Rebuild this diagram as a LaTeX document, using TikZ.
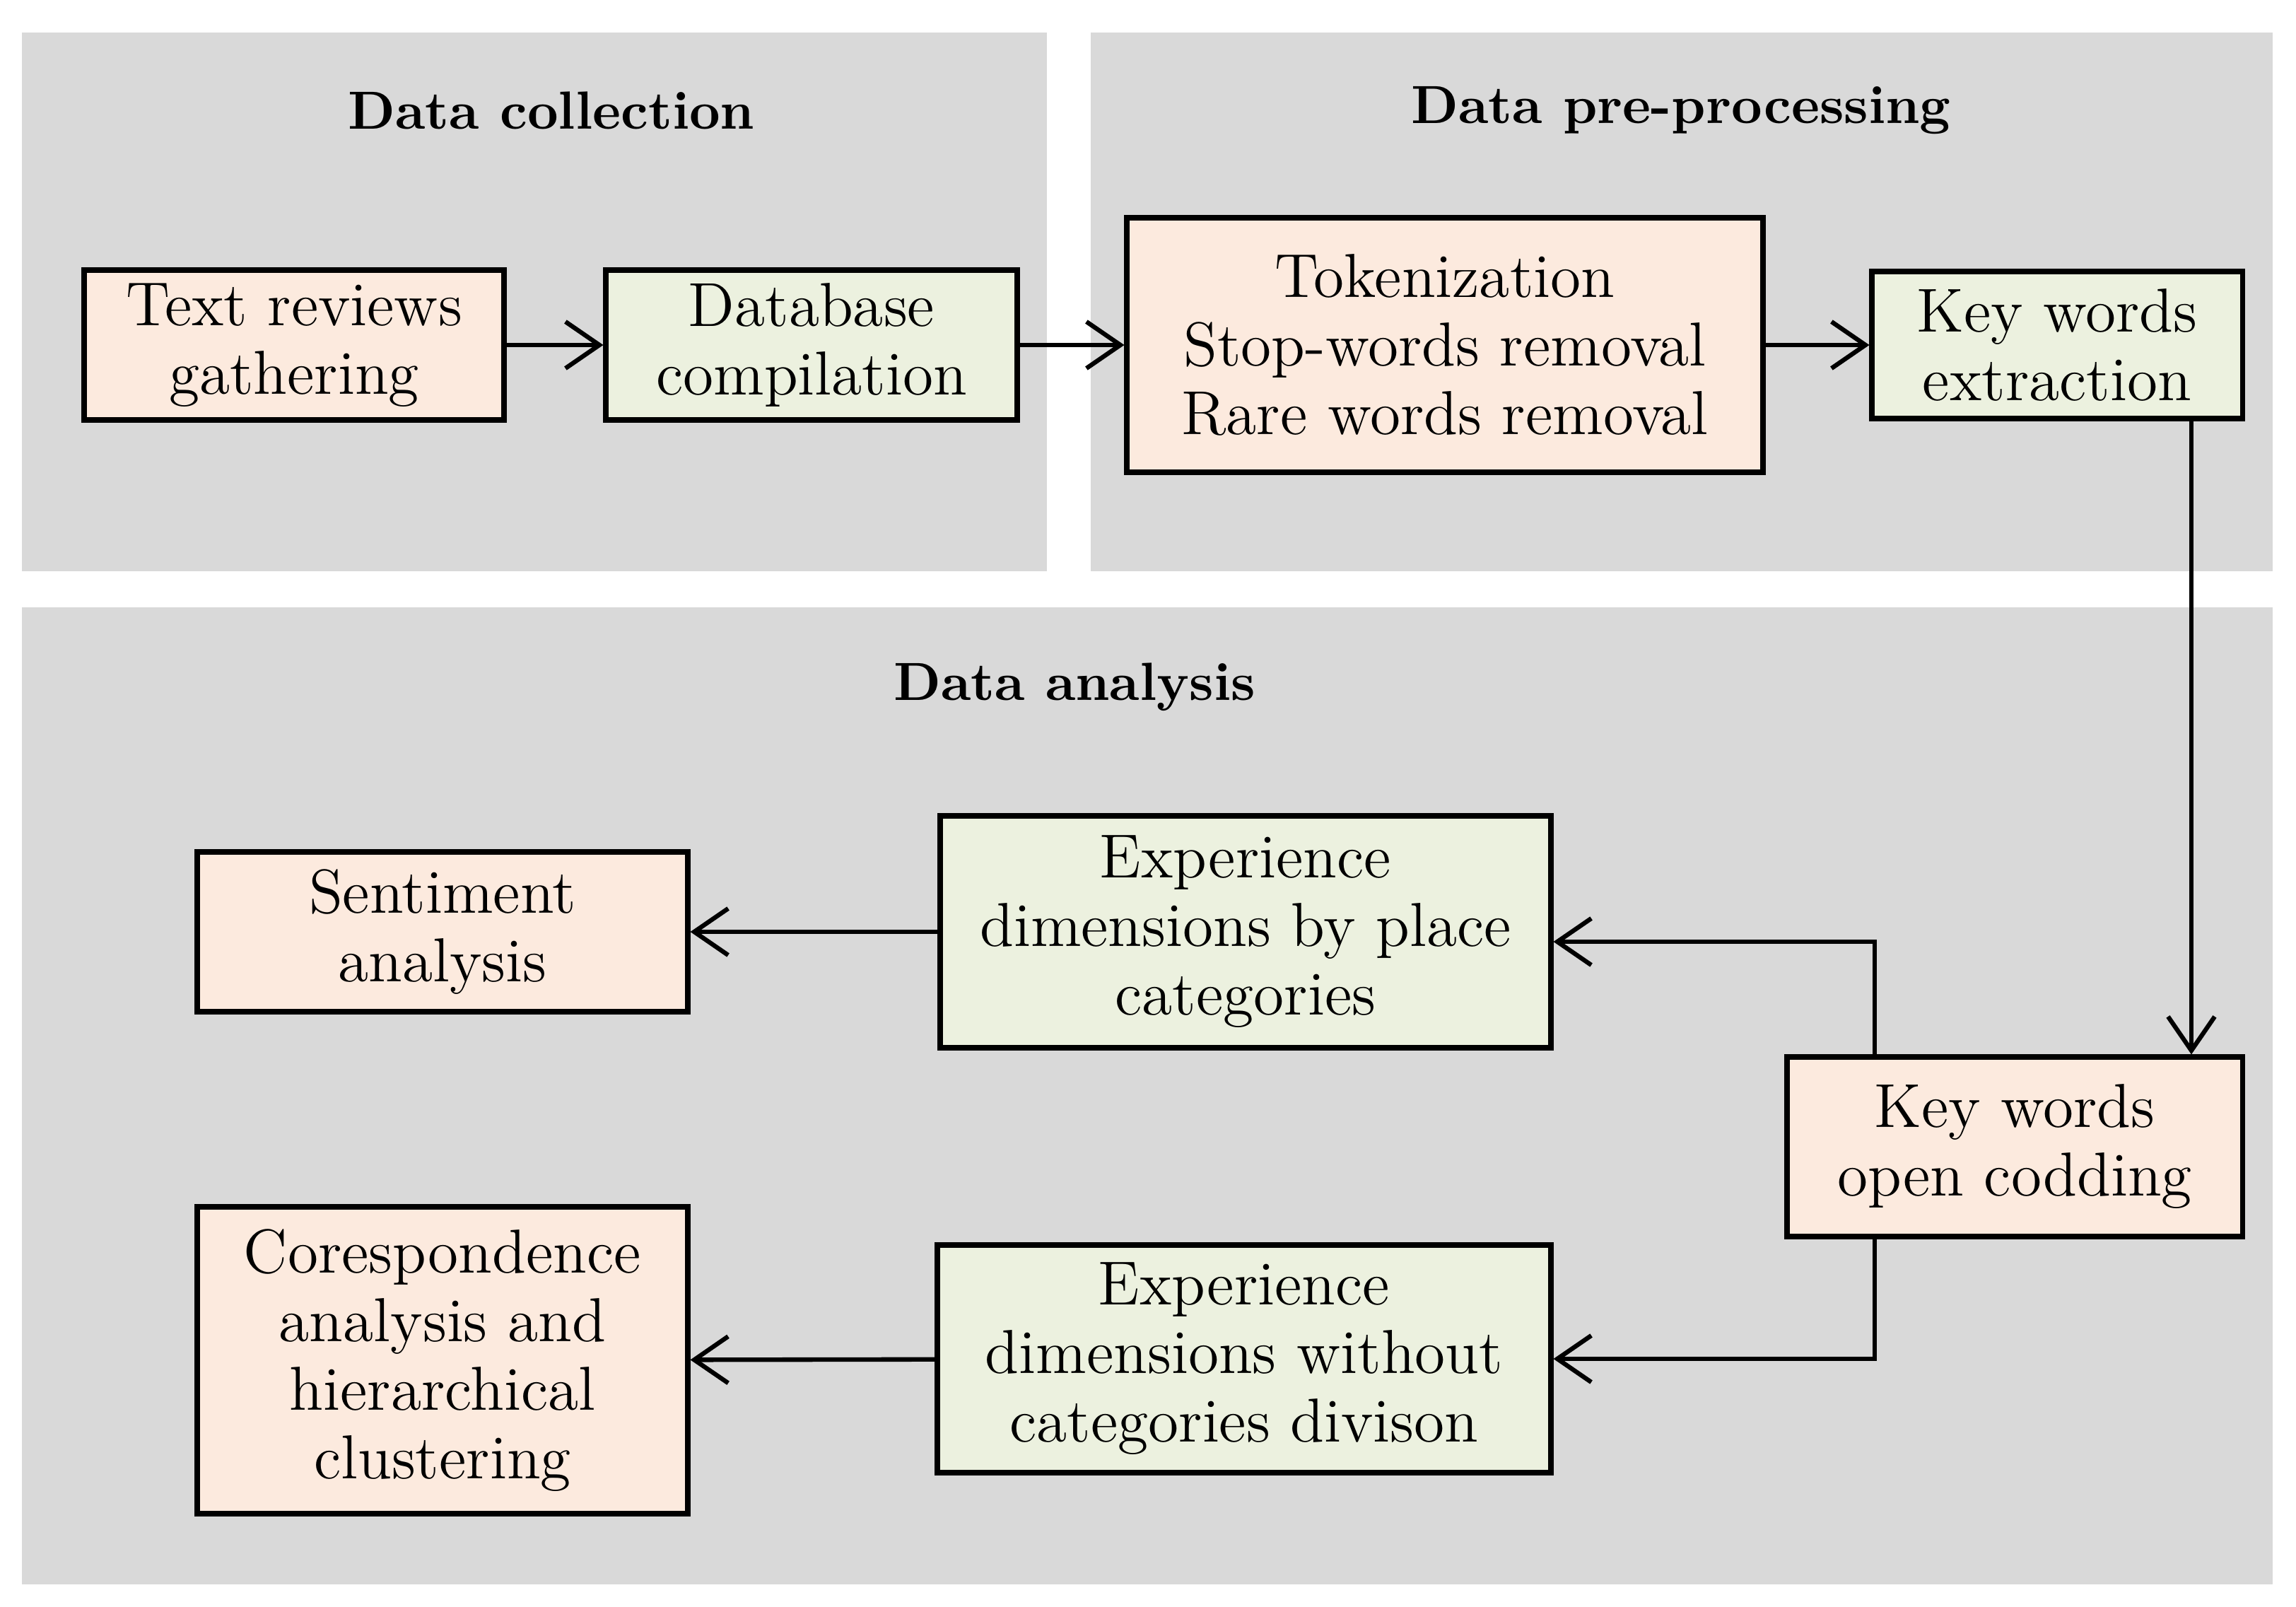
\documentclass[tikz,border=0pt]{standalone}
\usepackage{tikz}
\usetikzlibrary{arrows.meta}
\definecolor{mgray}{RGB}{217, 217, 217}
\definecolor{mpeach}{RGB}{252, 234, 222}
\definecolor{mgreen}{RGB}{236, 241, 223}
\tikzset{box/.style = {draw, line width=1pt, align=center, inner sep=0pt,
                       font=\fontsize{12.5}{13.8}\selectfont},
         peachbox/.style = {box, fill=mpeach},
         greenbox/.style = {box, fill=mgreen},
         title/.style = {font=\fontsize{10.8}{13}\selectfont\bfseries},
         flow/.style = {-{Straight Barb[length=2.4mm, width=3.3mm]}, line width=0.9pt}}

\begin{document}
\begin{tikzpicture}
    \useasboundingbox (0, 0) rectangle (16.24, 11.36);

    % panels
    \fill [mgray] (0.155, 7.32) rectangle (7.405, 11.13);
    \fill [mgray] (7.716, 7.32) rectangle (16.074, 11.13);
    \fill [mgray] (0.155, 0.155) rectangle (16.074, 7.063);

    \node [title] (tcol) at (3.90, 10.58) {Data collection};
    \node [title] (tpre) at (11.89, 10.58) {Data pre-processing};
    \node [title] (tana) at (7.60, 6.50) {Data analysis};

    % data collection and pre-processing
    \node [peachbox, minimum width=2.97cm, minimum height=1.06cm] (trg) at (2.08, 8.92) {Text reviews\\gathering};
    \node [greenbox, minimum width=2.91cm, minimum height=1.06cm] (dbc) at (5.74, 8.92) {Database\\compilation};
    \node [peachbox, minimum width=4.50cm, minimum height=1.80cm] (tok) at (10.22, 8.92) {Tokenization\\Stop-words removal\\Rare words removal};
    \node [greenbox, minimum width=2.62cm, minimum height=1.04cm] (kwe) at (14.55, 8.92) {Key words\\extraction};

    % data analysis
    \node [peachbox, minimum width=3.22cm, minimum height=1.27cm] (kwc) at (14.25, 3.25) {Key words\\open codding};
    \node [greenbox, minimum width=4.32cm, minimum height=1.64cm] (edp) at (8.81, 4.77) {Experience\\dimensions by place\\categories};
    \node [peachbox, minimum width=3.47cm, minimum height=1.13cm] (sen) at (3.13, 4.77) {Sentiment\\analysis};
    \node [greenbox, minimum width=4.34cm, minimum height=1.61cm] (edw) at (8.80, 1.75) {Experience\\dimensions without\\categories divison};
    \node [peachbox, minimum width=3.47cm, minimum height=2.17cm] (cor) at (3.13, 1.74) {Corespondence\\analysis and\\hierarchical\\clustering};

    \coordinate (down) at (15.50, 0);
    \coordinate (split) at (13.26, 0);

    \draw [flow] (trg) -- (dbc);
    \draw [flow] (dbc) -- (tok);
    \draw [flow] (tok) -- (kwe);
    \draw [flow] (kwe.south -| down) -- (kwc.north -| down);
    \draw [flow] (kwc.north -| split) |- ([yshift=-0.07cm]edp.east);
    \draw [flow] (kwc.south -| split) |- (edw.east);
    \draw [flow] (edp) -- (sen);
    \draw [flow] (edw) -- (cor);
\end{tikzpicture}
\end{document}
